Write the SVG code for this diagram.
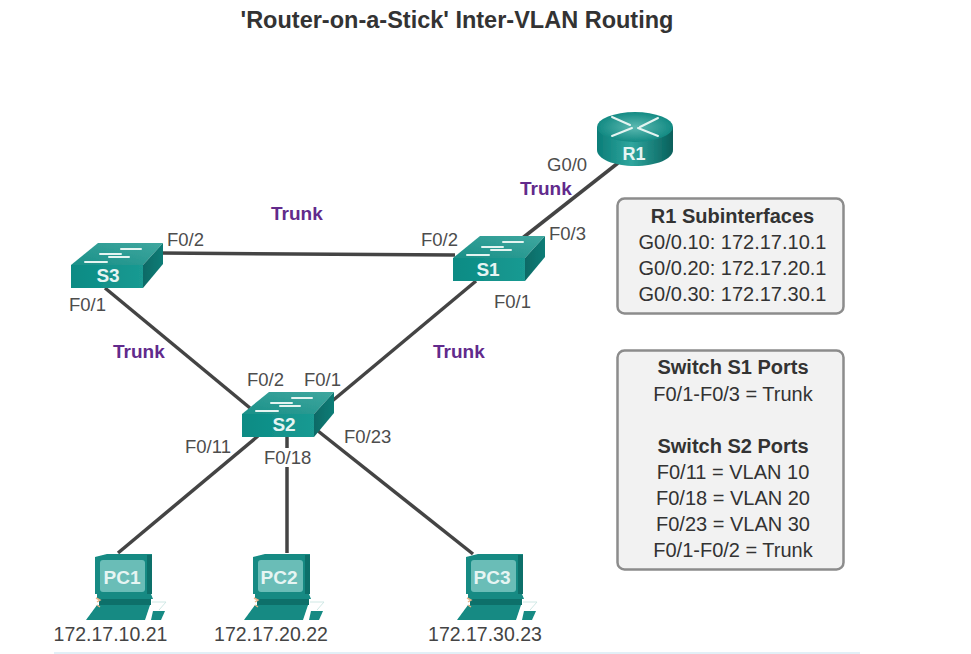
<svg xmlns="http://www.w3.org/2000/svg" width="971" height="654" viewBox="0 0 971 654">
<style>
text{font-family:"Liberation Sans",Arial,sans-serif}
.t{font-size:23.5px;font-weight:700;fill:#333;text-anchor:middle}
.p{font-size:18.500px;fill:#4d4d4d}
.tr{font-size:19px;font-weight:700;fill:#622a8c}
.ip{font-size:19.500px;fill:#444;text-anchor:middle}
.b{fill:#f2f2f2;stroke:#8c8c8c;stroke-width:2.5}
.bt{font-size:20px;fill:#333;text-anchor:middle}
.bh{font-size:20px;font-weight:700;fill:#333;text-anchor:middle}
.l{stroke:#444;stroke-width:3.5;fill:none}
.lab{font-size:19px;font-weight:700;fill:#e6f5f3;text-anchor:middle}
.w{stroke:#e4f4f1;stroke-width:2;fill:none;stroke-linecap:round}
.pcb{fill:#128a83}.pcs{fill:#6bbdb7}.pcd{fill:#0c6f6a}
</style>
<defs>
<filter id="soft" x="-5%" y="-5%" width="110%" height="110%"><feGaussianBlur stdDeviation="0.5"/></filter>
<linearGradient id="rs" x1="0" x2="1" y1="0" y2="0"><stop offset="0" stop-color="#0b7d78"/><stop offset=".45" stop-color="#2fa69e"/><stop offset="1" stop-color="#075f5b"/></linearGradient>
<radialGradient id="rt"><stop offset="0" stop-color="#5cb9b1"/><stop offset="1" stop-color="#138a83"/></radialGradient>
<linearGradient id="st" x1="0" x2="1" y1="1" y2="0"><stop offset="0" stop-color="#1a9088"/><stop offset="1" stop-color="#3fa79f"/></linearGradient>
<linearGradient id="sf" x1="0" x2="1" y1="0" y2="0"><stop offset="0" stop-color="#0b8b84"/><stop offset="1" stop-color="#1a9a92"/></linearGradient>
<linearGradient id="sd" x1="0" x2="1" y1="0" y2="0"><stop offset="0" stop-color="#0b6a66"/><stop offset="1" stop-color="#0d7c76"/></linearGradient>
<g id="sw" filter="url(#soft)">
<path fill="url(#st)" d="M0 22L27 0H92L72 22Z"/>
<path fill="url(#sf)" d="M0 22H72V45H0Z"/>
<path fill="url(#sd)" d="M72 22L92 0V21L72 45Z"/>
<path class="w" d="M14 19H36M50 6H70M29 11H50M38 14H58"/>
</g>
<g id="pc" filter="url(#soft)">
<path class="pcb" d="M10 4L22 1H67V41H10Z"/>
<path class="pcd" d="M62 2H67V41H62Z"/>
<rect class="pcs" x="15" y="7" width="45" height="32" rx="3"/>
<path class="pcb" d="M12 41H66L68 46H12Z"/>
<path class="pcd" d="M14 46H66V52H14Z"/>
<path class="pcb" d="M1 67L12 52H65L60 67Z"/>
<path class="pcb" d="M68 58H80L76 67H66Z"/>
<path d="M67 49H81L74 57" fill="none" stroke="#cfe8e5" stroke-width="1"/>
<path d="M11 45L15 47L12 49M12 52L15 54" fill="none" stroke="#e8b48a" stroke-width="1.500"/>
</g>
</defs>
<text class="t" x="457" y="28">'Router-on-a-Stick' Inter-VLAN Routing</text>
<g id="connectors">
<line class="l" x1="520" y1="240" x2="618" y2="163"/>
<line class="l" x1="160" y1="253" x2="455" y2="255"/>
<line class="l" x1="105" y1="288" x2="250" y2="408"/>
<line class="l" x1="476" y1="281" x2="325" y2="407"/>
<line class="l" x1="258" y1="436" x2="118" y2="553"/>
<line class="l" x1="287" y1="436" x2="287" y2="448"/>
<line class="l" x1="287" y1="467" x2="287" y2="553"/>
<line class="l" x1="318" y1="431" x2="473" y2="554"/>
</g>
<g id="R1">
<g filter="url(#soft)">
<path d="M597 127V150C597 159 614 166 635 166S673 159 673 150V127Z" fill="url(#rs)"/>
<ellipse cx="635" cy="127" rx="38" ry="15" fill="url(#rt)"/>
<path class="w" stroke-width="3" d="M612 117L630 125M658 118L640 127M612 136L632 128M658 136L638 128"/>
</g>
<text class="lab" style="font-size:18px" x="634" y="160">R1</text>
</g>
<g id="S1"><use href="#sw" x="453" y="236"/><text class="lab" x="488" y="276">S1</text></g>
<g id="S3"><use href="#sw" x="71" y="243"/><text class="lab" x="108" y="282">S3</text></g>
<g id="S2"><use href="#sw" x="242" y="392"/><text class="lab" x="284" y="431">S2</text></g>
<g id="PC1"><use href="#pc" x="85" y="553"/><text class="lab" x="122" y="584">PC1</text></g>
<g id="PC2"><use href="#pc" x="243" y="553"/><text class="lab" x="279" y="584">PC2</text></g>
<g id="PC3"><use href="#pc" x="456" y="553"/><text class="lab" x="492" y="584">PC3</text></g>
<text class="p" x="547" y="171">G0/0</text>
<text class="tr" x="520" y="195">Trunk</text>
<text class="tr" x="271" y="220">Trunk</text>
<text class="p" x="549" y="240">F0/3</text>
<text class="p" x="167" y="246">F0/2</text>
<text class="p" x="421" y="246">F0/2</text>
<text class="p" x="69" y="311">F0/1</text>
<text class="p" x="494" y="308">F0/1</text>
<text class="tr" x="113" y="358">Trunk</text>
<text class="tr" x="433" y="358">Trunk</text>
<text class="p" x="247" y="386">F0/2</text>
<text class="p" x="304" y="386">F0/1</text>
<text class="p" x="185" y="453">F0/11</text>
<text class="p" x="264" y="464">F0/18</text>
<text class="p" x="344" y="443">F0/23</text>
<text class="ip" x="110.500" y="641">172.17.10.21</text>
<text class="ip" x="271" y="641">172.17.20.22</text>
<text class="ip" x="485" y="641">172.17.30.23</text>
<g id="subinterfaces">
<rect class="b" x="617.500" y="198.500" width="226" height="115" rx="7"/>
<text class="bh" x="732.500" y="223">R1 Subinterfaces</text>
<text class="bt" x="732.500" y="249">G0/0.10: 172.17.10.1</text>
<text class="bt" x="732.500" y="275">G0/0.20: 172.17.20.1</text>
<text class="bt" x="732.500" y="301">G0/0.30: 172.17.30.1</text>
</g>
<g id="ports">
<rect class="b" x="617.500" y="350.500" width="226" height="219" rx="7"/>
<text class="bh" x="733" y="374">Switch S1 Ports</text>
<text class="bt" x="733" y="401">F0/1-F0/3 = Trunk</text>
<text class="bh" x="733" y="453">Switch S2 Ports</text>
<text class="bt" x="733" y="479">F0/11 = VLAN 10</text>
<text class="bt" x="733" y="505">F0/18 = VLAN 20</text>
<text class="bt" x="733" y="531">F0/23 = VLAN 30</text>
<text class="bt" x="733" y="557">F0/1-F0/2 = Trunk</text>
</g>
<rect x="54" y="652" width="806" height="2" fill="#e2f0f7"/>
</svg>
